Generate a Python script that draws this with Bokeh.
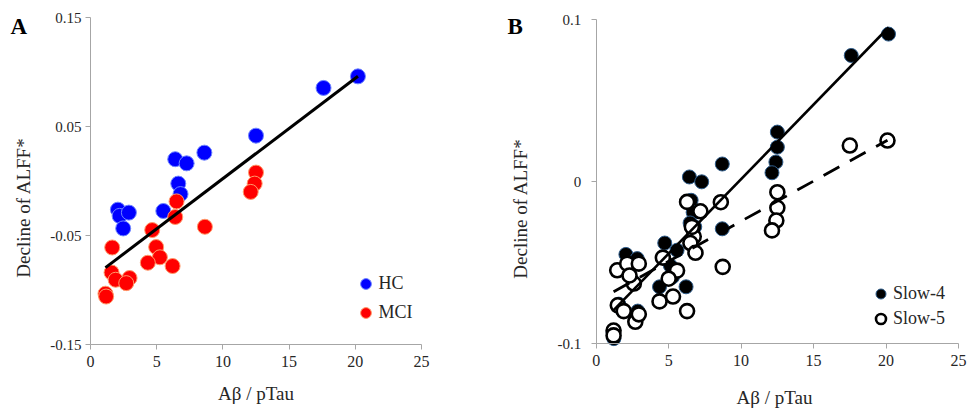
import numpy as np
from bokeh.plotting import figure
from bokeh.models import Range1d, FixedTicker, Label, Legend, LegendItem
from bokeh.layouts import row
from bokeh.embed import file_html
from bokeh.resources import INLINE

# ---------------- Data: panel A ----------------
hc_x = [20.2, 17.6, 12.5, 8.6, 6.4, 7.26, 6.63, 6.8, 5.5, 2.07, 2.2, 2.9, 2.47]
hc_y = [0.096, 0.0854, 0.0416, 0.026, 0.020, 0.0162, -0.0024, -0.012, -0.0275,
        -0.0263, -0.032, -0.029, -0.0435]
mci_x = [12.5, 12.4, 12.1, 6.5, 6.4, 8.64, 4.66, 1.64, 4.96, 5.24, 4.33, 6.2,
         1.59, 1.9, 2.95, 2.7, 1.13, 1.18]
mci_y = [0.0077, -0.0024, -0.010, -0.0187, -0.033, -0.042, -0.045, -0.061, -0.0606,
         -0.070, -0.075, -0.078, -0.084, -0.0906, -0.089, -0.0937, -0.1034, -0.106]
fitA_slope, fitA_intercept = 0.00921, -0.0899

# ---------------- Data: panel B ----------------
slow4_x = [20.17, 17.6, 12.5, 12.5, 12.4, 12.13, 8.7, 8.7, 6.43, 7.28, 6.55, 6.69,
           6.48, 6.8, 4.73, 5.58, 5.12, 5.26, 4.37, 6.2, 2.05, 2.83, 1.56, 2.25,
           2.57, 1.56, 1.8, 2.87, 2.7, 1.17, 1.22]
slow4_y = [0.091, 0.0778, 0.0305, 0.0212, 0.012, 0.0054, 0.0108, -0.0292, 0.0028,
           -0.0002, -0.0116, -0.019, -0.0256, -0.028, -0.038, -0.0424, -0.052, -0.059,
           -0.065, -0.065, -0.045, -0.0476, -0.0548, -0.056, -0.062, -0.0757, -0.0794,
           -0.080, -0.0846, -0.093, -0.097]
slow5_x = [20.1, 17.5, 12.5, 12.5, 12.43, 12.13, 8.6, 8.73, 6.27, 7.19, 6.73, 6.5,
           6.85, 6.6, 4.6, 5.58, 5.3, 4.37, 6.27, 1.45, 2.14, 2.94, 2.6, 1.49, 1.9,
           2.7, 2.94, 1.2, 1.2, 5.0, 2.3]
slow5_y = [0.0253, 0.0222, -0.0066, -0.0162, -0.0241, -0.0302, -0.0128, -0.0527,
           -0.0126, -0.0184, -0.034, -0.038, -0.044, -0.028, -0.047, -0.055, -0.071,
           -0.074, -0.080, -0.0548, -0.0507, -0.0507, -0.063, -0.0764, -0.080, -0.0866,
           -0.082, -0.092, -0.095, -0.060, -0.058]
fit4_slope, fit4_intercept = 0.0092, -0.0905
fit5_slope, fit5_intercept = 0.00495, -0.0740

x_ticks = [0, 5, 10, 15, 20, 25]
x_lim = (0, 25)
yA_ticks = [-0.15, -0.05, 0.05, 0.15]
yA_labels = ["-0.15", "-0.05", "0.05", "0.15"]
yA_lim = (-0.15, 0.15)
yB_ticks = [-0.1, 0.0, 0.1]
yB_labels = ["-0.1", "0", "0.1"]
yB_lim = (-0.1, 0.1)

SERIF = "'Liberation Serif', 'Times New Roman', serif"
TXT = "#262626"
AXC = "#a6a6a6"
H = 410


def make_panel(width, fl, fr, ft, fb, xlim, ylim, yticks, ylabels, ystandoff):
    """Canvas-wide frame; axes sit at fixed data positions so that all texts fit."""
    sx = (xlim[1] - xlim[0]) / (fr - fl)
    sy = (ylim[1] - ylim[0]) / (fb - ft)
    xr = Range1d(xlim[0] - fl * sx, xlim[1] + (width - fr) * sx)
    yr = Range1d(ylim[0] - (H - fb) * sy, ylim[1] + ft * sy)
    p = figure(width=width, height=H, output_backend="svg", toolbar_location=None,
               x_range=xr, y_range=yr, min_border=0,
               min_border_left=0, min_border_right=0, min_border_top=0, min_border_bottom=0)
    p.outline_line_color = None
    p.xgrid.visible = False
    p.ygrid.visible = False
    xa, ya = p.xaxis[0], p.yaxis[0]
    xa.fixed_location = ylim[0]
    ya.fixed_location = xlim[0]
    xa.bounds = xlim
    ya.bounds = ylim
    for ax in (xa, ya):
        ax.axis_line_color = AXC
        ax.major_tick_line_color = AXC
        ax.major_tick_out = 5
        ax.major_tick_in = 0
        ax.minor_tick_line_color = None
        ax.major_label_text_color = TXT
        ax.major_label_text_font = SERIF
    xa.ticker = FixedTicker(ticks=x_ticks)
    xa.major_label_text_font_size = "16px"
    xa.major_label_standoff = 6
    ya.ticker = FixedTicker(ticks=yticks)
    ya.major_label_overrides = {t: l for t, l in zip(yticks, ylabels)}
    ya.major_label_text_font_size = "15px"
    ya.major_label_standoff = ystandoff
    ya.major_label_orientation = "horizontal"
    return p


def add_texts(p, letter, lx, ly_base, ylab_cx, ylab_cy, xlab_cx, xlab_base):
    p.add_layout(Label(x=lx, y=H - ly_base, x_units="screen", y_units="screen", text=letter,
                       text_align="left", text_baseline="alphabetic", text_font=SERIF,
                       text_font_size="23px", text_font_style="bold", text_color="black"))
    p.add_layout(Label(x=ylab_cx, y=H - ylab_cy, x_units="screen", y_units="screen",
                       text="Decline of ALFF*", angle=np.pi / 2, text_align="center",
                       text_baseline="middle", text_font=SERIF, text_font_size="19px",
                       text_color=TXT))
    p.add_layout(Label(x=xlab_cx, y=H - xlab_base, x_units="screen", y_units="screen",
                       text="Aβ / pTau", text_align="center", text_baseline="alphabetic",
                       text_font=SERIF, text_font_size="19px", text_color=TXT))


# ---------------- Panel A ----------------
pA = make_panel(480, 90, 421, 17, 344, x_lim, yA_lim, yA_ticks, yA_labels, 4)
rA_hc = pA.scatter(hc_x, hc_y, size=15, fill_color="#0000ff", line_color="#6f86ff", line_width=1)
rA_mci = pA.scatter(mci_x, mci_y, size=15, fill_color="#ff0000", line_color="#ff9a6a", line_width=1)
allA = hc_x + mci_x
fxA = np.array([min(allA), max(allA)])
pA.line(fxA, fitA_slope * fxA + fitA_intercept, line_color="black", line_width=3)
pA.add_layout(Legend(items=[LegendItem(label="HC", renderers=[rA_hc]),
                            LegendItem(label="MCI", renderers=[rA_mci])],
                     location=(351.5, H - 325.5), orientation="vertical", padding=0, margin=0,
                     spacing=2, glyph_width=27, glyph_height=27, label_height=27,
                     label_standoff=0, border_line_alpha=0, background_fill_alpha=0,
                     label_text_font=SERIF, label_text_font_size="18px", label_text_color=TXT))
add_texts(pA, "A", 10, 25.5, 22.5, 207, 255.5, 393)

# ---------------- Panel B ----------------
pB = make_panel(491, 115.7, 478, 19, 343, x_lim, yB_lim, yB_ticks, yB_labels, 10)
rB4 = pB.scatter(slow4_x, slow4_y, size=14, fill_color="black", line_color="#2e5c8a", line_width=1)
rB5 = pB.scatter(slow5_x, slow5_y, size=14, fill_color="white", line_color="black", line_width=2.6)
f4 = np.array([min(slow4_x), max(slow4_x)])
f5 = np.array([min(slow5_x), max(slow5_x)])
pB.line(f4, fit4_slope * f4 + fit4_intercept, line_color="black", line_width=2.6)
pB.line(f5, fit5_slope * f5 + fit5_intercept, line_color="black", line_width=2.8,
        line_dash="18 12")
pB.add_layout(Legend(items=[LegendItem(label="Slow-4", renderers=[rB4]),
                            LegendItem(label="Slow-5", renderers=[rB5])],
                     location=(388, H - 330.5), orientation="vertical", padding=0, margin=0,
                     spacing=0, glyph_width=25, glyph_height=25, label_height=25,
                     label_standoff=0, border_line_alpha=0, background_fill_alpha=0,
                     label_text_font=SERIF, label_text_font_size="18px", label_text_color=TXT))
add_texts(pB, "B", 27, 25.5, 39.5, 208, 294, 397)

layout = row(pA, pB)
open("out.html", "w").write(file_html(layout, INLINE))
